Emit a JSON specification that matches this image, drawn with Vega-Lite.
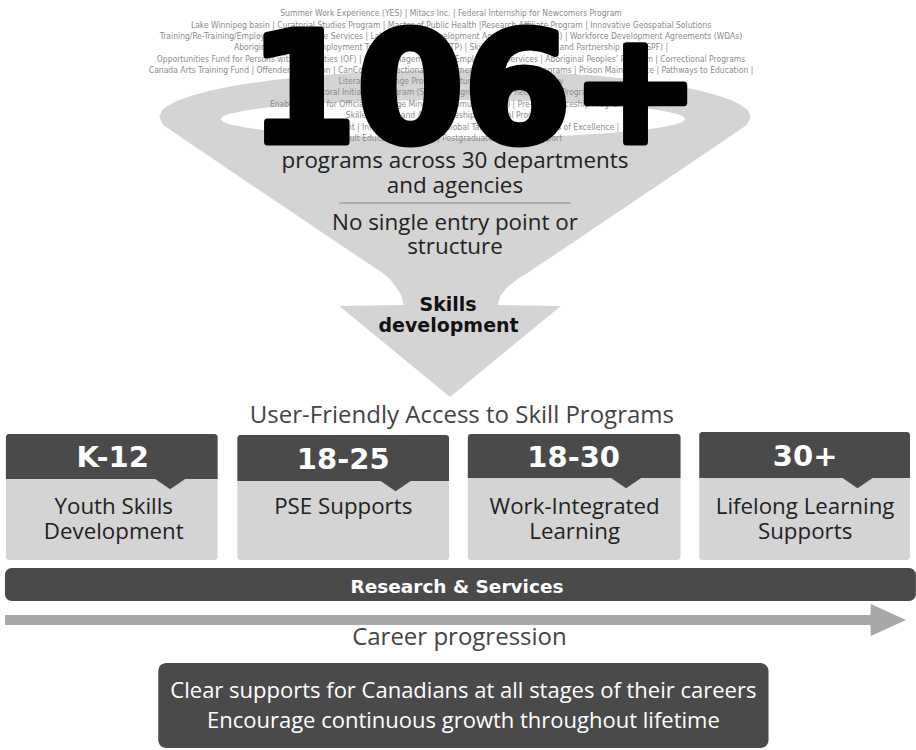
{
  "$schema": "https://vega.github.io/schema/vega-lite/v6.json",
  "width": 916,
  "height": 750,
  "autosize": {"type": "fit", "contains": "padding"},
  "padding": 0,
  "background": "white",
  "config": {"view": {"stroke": null}},
  "datasets": {
    "funnel": [
      {"y": 70, "xl": 460, "xr": 460},
      {"y": 71, "xl": 399, "xr": 521},
      {"y": 73, "xl": 355, "xr": 565},
      {"y": 76, "xl": 314, "xr": 606},
      {"y": 80, "xl": 276, "xr": 644},
      {"y": 85, "xl": 241, "xr": 679},
      {"y": 90, "xl": 215, "xr": 705},
      {"y": 95, "xl": 196, "xr": 724},
      {"y": 100, "xl": 181, "xr": 739},
      {"y": 105, "xl": 171, "xr": 749},
      {"y": 110, "xl": 164, "xr": 756},
      {"y": 117, "xl": 161, "xr": 759},
      {"y": 125, "xl": 165, "xr": 755},
      {"y": 150, "xl": 202, "xr": 718},
      {"y": 200, "xl": 277, "xr": 643},
      {"y": 250, "xl": 352, "xr": 568},
      {"y": 273, "xl": 387, "xr": 533},
      {"y": 280, "xl": 395, "xr": 522},
      {"y": 288, "xl": 401, "xr": 512},
      {"y": 296, "xl": 406, "xr": 506},
      {"y": 305, "xl": 408, "xr": 503},
      {"y": 306, "xl": 343, "xr": 567},
      {"y": 397, "xl": 455, "xr": 455}
    ],
    "hole": [
      {"x": 223, "yt": 119, "yb": 119},
      {"x": 226, "yt": 116, "yb": 122},
      {"x": 233, "yt": 113.5, "yb": 124.5},
      {"x": 248, "yt": 110.5, "yb": 127.5},
      {"x": 270, "yt": 107.6, "yb": 130.4},
      {"x": 300, "yt": 104.9, "yb": 133.1},
      {"x": 340, "yt": 102.6, "yb": 135.4},
      {"x": 390, "yt": 100.8, "yb": 137.2},
      {"x": 458, "yt": 100, "yb": 138},
      {"x": 526, "yt": 100.8, "yb": 137.2},
      {"x": 576, "yt": 102.6, "yb": 135.4},
      {"x": 616, "yt": 104.9, "yb": 133.1},
      {"x": 646, "yt": 107.6, "yb": 130.4},
      {"x": 668, "yt": 110.5, "yb": 127.5},
      {"x": 683, "yt": 113.5, "yb": 124.5},
      {"x": 690, "yt": 116, "yb": 122},
      {"x": 693, "yt": 119, "yb": 119}
    ],
    "arrow": [
      {"x": 5, "yt": 615, "yb": 625},
      {"x": 880, "yt": 615, "yb": 625},
      {"x": 880.5, "yt": 604, "yb": 636},
      {"x": 916, "yt": 620, "yb": 620}
    ],
    "programs": [
      {"text": "Summer Work Experience (YES) | Mitacs Inc. | Federal Internship for Newcomers Program", "x": 456, "y": 13},
      {"text": "Lake Winnipeg basin | Curatorial Studies Program | Master of Public Health |Research Affiliate Program | Innovative Geospatial Solutions", "x": 456, "y": 24.5},
      {"text": "Training/Re-Training/Employment Assistance Services | Labour Market Development Agreements (LMDAs) | Workforce Development Agreements (WDAs)", "x": 456, "y": 35.5},
      {"text": "Aboriginal Skills and Employment Training Program (ASETP) | Skills Link (YES) | Skills and Partnership Fund (SPF) |", "x": 456, "y": 47},
      {"text": "Opportunities Fund for Persons with Disabilities (OF) | Case Management and Employment Services | Aboriginal Peoples’ Program | Correctional Programs", "x": 456, "y": 58.5},
      {"text": "Canada Arts Training Fund | Offender Education | CanCode | Correctional Employment | Employment Programs | Prison Maintenance | Pathways to Education |", "x": 456, "y": 70},
      {"text": "Literacy Exchange Program | Future Skills Centre | Literacy", "x": 456, "y": 81},
      {"text": "Sectoral Initiatives Program (SIP) | Foreign Credential Recognition Program", "x": 456, "y": 92},
      {"text": "Enabling Fund for Official Language Minority Communities (EF) | Pre-Apprenticeship Program", "x": 452, "y": 103.5},
      {"text": "Skilled Trades and Apprenticeship (Red Seal Program) |", "x": 456, "y": 115},
      {"text": "Youth Employment | Innovation Program | Global Talent Stream | Centres of Excellence |", "x": 456, "y": 126.5},
      {"text": "Adult Education Program | Postgraduate Students Support", "x": 456, "y": 138}
    ],
    "big": [{"text": "106+", "x": 480, "y": 142}],
    "funnelText": [
      {"text": "programs across 30 departments", "x": 460, "y": 168},
      {"text": "and agencies", "x": 460, "y": 193},
      {"text": "No single entry point or", "x": 460, "y": 230},
      {"text": "structure", "x": 460, "y": 254}
    ],
    "separator": [{"x0": 343, "x1": 577, "y": 203}],
    "skills": [
      {"text": "Skills", "x": 453, "y": 311},
      {"text": "development", "x": 453.5, "y": 332}
    ],
    "subtitles": [
      {"text": "User-Friendly Access to Skill Programs", "x": 467, "y": 423},
      {"text": "Career progression", "x": 464.5, "y": 645}
    ],
    "stages": [
      {"stage": "K-12", "x0": 6, "x1": 220, "cx": 114, "ptr": 172, "top": 434, "mid": 479, "bottom": 560, "ty": 467},
      {"stage": "18-25", "x0": 240, "x1": 454, "cx": 347, "ptr": 400, "top": 435, "mid": 481, "bottom": 560, "ty": 469},
      {"stage": "18-30", "x0": 473, "x1": 688, "cx": 580, "ptr": 633, "top": 434, "mid": 478, "bottom": 560, "ty": 467},
      {"stage": "30+", "x0": 707, "x1": 920, "cx": 814, "ptr": 867, "top": 432, "mid": 478, "bottom": 560, "ty": 466}
    ],
    "stageLines": [
      {"text": "Youth Skills", "x": 115, "y": 514},
      {"text": "Development", "x": 115, "y": 539},
      {"text": "PSE Supports", "x": 347, "y": 514},
      {"text": "Work-Integrated", "x": 581, "y": 514},
      {"text": "Learning", "x": 581, "y": 539},
      {"text": "Lifelong Learning", "x": 814, "y": 514},
      {"text": "Supports", "x": 814, "y": 539}
    ],
    "research": [{"text": "Research & Services", "x0": 5, "x1": 926, "y0": 568, "y1": 601, "tx": 462, "ty": 593}],
    "goal": [{"x0": 160, "x1": 777, "y0": 663, "y1": 748}],
    "goalLines": [
      {"text": "Clear supports for Canadians at all stages of their careers", "x": 468.5, "y": 698},
      {"text": "Encourage continuous growth throughout lifetime", "x": 468.5, "y": 728}
    ]
  },
  "layer": [
    {
      "data": {"name": "funnel"},
      "mark": {"type": "area", "orient": "horizontal", "color": "#d4d4d4", "opacity": 1},
      "encoding": {
        "y": {"field": "y", "type": "quantitative", "scale": {"domain": [0, 750], "reverse": true, "nice": false, "zero": false}, "axis": null},
        "x": {"field": "xl", "type": "quantitative", "stack": null, "scale": {"domain": [0, 916], "nice": false, "zero": false}, "axis": null},
        "x2": {"field": "xr"}
      }
    },
    {
      "data": {"name": "hole"},
      "mark": {"type": "area", "orient": "vertical", "color": "#ffffff", "opacity": 1},
      "encoding": {
        "x": {"field": "x", "type": "quantitative", "scale": {"domain": [0, 916], "nice": false, "zero": false}, "axis": null},
        "y": {"field": "yt", "type": "quantitative", "stack": null, "scale": {"domain": [0, 750], "reverse": true, "nice": false, "zero": false}, "axis": null},
        "y2": {"field": "yb"}
      }
    },
    {
      "data": {"name": "programs"},
      "mark": {"type": "text", "align": "center", "baseline": "middle", "fontSize": 8.5, "font": "'Liberation Sans Narrow', 'DejaVu Sans Condensed', sans-serif", "color": "#8c8c8c"},
      "encoding": {
        "x": {"field": "x", "type": "quantitative", "scale": {"domain": [0, 916], "nice": false, "zero": false}, "axis": null},
        "y": {"field": "y", "type": "quantitative", "scale": {"domain": [0, 750], "reverse": true, "nice": false, "zero": false}, "axis": null},
        "text": {"field": "text", "type": "nominal"}
      }
    },
    {
      "data": {"name": "big"},
      "mark": {"type": "text", "align": "center", "baseline": "alphabetic", "fontSize": 154, "font": "DejaVu Sans", "fontWeight": "bold", "color": "#000000", "stroke": "#000000", "strokeWidth": 7, "strokeJoin": "round"},
      "encoding": {
        "x": {"field": "x", "type": "quantitative", "scale": {"domain": [0, 916], "nice": false, "zero": false}, "axis": null},
        "y": {"field": "y", "type": "quantitative", "scale": {"domain": [0, 750], "reverse": true, "nice": false, "zero": false}, "axis": null},
        "text": {"field": "text", "type": "nominal"}
      }
    },
    {
      "data": {"name": "funnelText"},
      "mark": {"type": "text", "align": "center", "baseline": "alphabetic", "fontSize": 22.4, "font": "Open Sans", "color": "#222222"},
      "encoding": {
        "x": {"field": "x", "type": "quantitative", "scale": {"domain": [0, 916], "nice": false, "zero": false}, "axis": null},
        "y": {"field": "y", "type": "quantitative", "scale": {"domain": [0, 750], "reverse": true, "nice": false, "zero": false}, "axis": null},
        "text": {"field": "text", "type": "nominal"}
      }
    },
    {
      "data": {"name": "separator"},
      "mark": {"type": "rule", "color": "#8a8a8a", "strokeWidth": 1},
      "encoding": {
        "x": {"field": "x0", "type": "quantitative", "scale": {"domain": [0, 916], "nice": false, "zero": false}, "axis": null},
        "x2": {"field": "x1"},
        "y": {"field": "y", "type": "quantitative", "scale": {"domain": [0, 750], "reverse": true, "nice": false, "zero": false}, "axis": null}
      }
    },
    {
      "data": {"name": "skills"},
      "mark": {"type": "text", "align": "center", "baseline": "alphabetic", "fontSize": 19, "font": "DejaVu Sans", "fontWeight": "bold", "color": "#111111"},
      "encoding": {
        "x": {"field": "x", "type": "quantitative", "scale": {"domain": [0, 916], "nice": false, "zero": false}, "axis": null},
        "y": {"field": "y", "type": "quantitative", "scale": {"domain": [0, 750], "reverse": true, "nice": false, "zero": false}, "axis": null},
        "text": {"field": "text", "type": "nominal"}
      }
    },
    {
      "data": {"name": "subtitles"},
      "mark": {"type": "text", "align": "center", "baseline": "alphabetic", "fontSize": 24, "font": "Open Sans", "color": "#444444"},
      "encoding": {
        "x": {"field": "x", "type": "quantitative", "scale": {"domain": [0, 916], "nice": false, "zero": false}, "axis": null},
        "y": {"field": "y", "type": "quantitative", "scale": {"domain": [0, 750], "reverse": true, "nice": false, "zero": false}, "axis": null},
        "text": {"field": "text", "type": "nominal"}
      }
    },
    {
      "data": {"name": "stages"},
      "mark": {"type": "rect", "color": "#d4d4d4", "cornerRadius": 3},
      "encoding": {
        "x": {"field": "x0", "type": "quantitative", "scale": {"domain": [0, 916], "nice": false, "zero": false}, "axis": null},
        "x2": {"field": "x1"},
        "y": {"field": "top", "type": "quantitative", "scale": {"domain": [0, 750], "reverse": true, "nice": false, "zero": false}, "axis": null},
        "y2": {"field": "bottom"}
      }
    },
    {
      "data": {"name": "stages"},
      "mark": {"type": "rect", "color": "#4a4a4a", "cornerRadiusTopLeft": 3, "cornerRadiusTopRight": 3},
      "encoding": {
        "x": {"field": "x0", "type": "quantitative", "scale": {"domain": [0, 916], "nice": false, "zero": false}, "axis": null},
        "x2": {"field": "x1"},
        "y": {"field": "top", "type": "quantitative", "scale": {"domain": [0, 750], "reverse": true, "nice": false, "zero": false}, "axis": null},
        "y2": {"field": "mid"}
      }
    },
    {
      "data": {"name": "stages"},
      "mark": {"type": "point", "shape": "M -1 0 L 1 0 L 0 0.68 Z", "size": 900, "filled": true, "color": "#4a4a4a", "opacity": 1, "strokeWidth": 0},
      "encoding": {
        "x": {"field": "ptr", "type": "quantitative", "scale": {"domain": [0, 916], "nice": false, "zero": false}, "axis": null},
        "y": {"field": "mid", "type": "quantitative", "scale": {"domain": [0, 750], "reverse": true, "nice": false, "zero": false}, "axis": null}
      }
    },
    {
      "data": {"name": "stages"},
      "mark": {"type": "text", "align": "center", "baseline": "alphabetic", "fontSize": 29, "font": "DejaVu Sans", "fontWeight": "bold", "color": "#ffffff"},
      "encoding": {
        "x": {"field": "cx", "type": "quantitative", "scale": {"domain": [0, 916], "nice": false, "zero": false}, "axis": null},
        "y": {"field": "ty", "type": "quantitative", "scale": {"domain": [0, 750], "reverse": true, "nice": false, "zero": false}, "axis": null},
        "text": {"field": "stage", "type": "nominal"}
      }
    },
    {
      "data": {"name": "stageLines"},
      "mark": {"type": "text", "align": "center", "baseline": "alphabetic", "fontSize": 22.3, "font": "Open Sans", "color": "#222222"},
      "encoding": {
        "x": {"field": "x", "type": "quantitative", "scale": {"domain": [0, 916], "nice": false, "zero": false}, "axis": null},
        "y": {"field": "y", "type": "quantitative", "scale": {"domain": [0, 750], "reverse": true, "nice": false, "zero": false}, "axis": null},
        "text": {"field": "text", "type": "nominal"}
      }
    },
    {
      "data": {"name": "research"},
      "mark": {"type": "rect", "color": "#4a4a4a", "cornerRadius": 7},
      "encoding": {
        "x": {"field": "x0", "type": "quantitative", "scale": {"domain": [0, 916], "nice": false, "zero": false}, "axis": null},
        "x2": {"field": "x1"},
        "y": {"field": "y0", "type": "quantitative", "scale": {"domain": [0, 750], "reverse": true, "nice": false, "zero": false}, "axis": null},
        "y2": {"field": "y1"}
      }
    },
    {
      "data": {"name": "research"},
      "mark": {"type": "text", "align": "center", "baseline": "alphabetic", "fontSize": 18.5, "font": "DejaVu Sans", "fontWeight": "bold", "color": "#ffffff"},
      "encoding": {
        "x": {"field": "tx", "type": "quantitative", "scale": {"domain": [0, 916], "nice": false, "zero": false}, "axis": null},
        "y": {"field": "ty", "type": "quantitative", "scale": {"domain": [0, 750], "reverse": true, "nice": false, "zero": false}, "axis": null},
        "text": {"field": "text", "type": "nominal"}
      }
    },
    {
      "data": {"name": "arrow"},
      "mark": {"type": "area", "orient": "vertical", "color": "#a8a8a8", "opacity": 1},
      "encoding": {
        "x": {"field": "x", "type": "quantitative", "scale": {"domain": [0, 916], "nice": false, "zero": false}, "axis": null},
        "y": {"field": "yt", "type": "quantitative", "stack": null, "scale": {"domain": [0, 750], "reverse": true, "nice": false, "zero": false}, "axis": null},
        "y2": {"field": "yb"}
      }
    },
    {
      "data": {"name": "goal"},
      "mark": {"type": "rect", "color": "#4a4a4a", "cornerRadius": 8},
      "encoding": {
        "x": {"field": "x0", "type": "quantitative", "scale": {"domain": [0, 916], "nice": false, "zero": false}, "axis": null},
        "x2": {"field": "x1"},
        "y": {"field": "y0", "type": "quantitative", "scale": {"domain": [0, 750], "reverse": true, "nice": false, "zero": false}, "axis": null},
        "y2": {"field": "y1"}
      }
    },
    {
      "data": {"name": "goalLines"},
      "mark": {"type": "text", "align": "center", "baseline": "alphabetic", "fontSize": 22, "font": "Open Sans", "color": "#ffffff"},
      "encoding": {
        "x": {"field": "x", "type": "quantitative", "scale": {"domain": [0, 916], "nice": false, "zero": false}, "axis": null},
        "y": {"field": "y", "type": "quantitative", "scale": {"domain": [0, 750], "reverse": true, "nice": false, "zero": false}, "axis": null},
        "text": {"field": "text", "type": "nominal"}
      }
    }
  ]
}
